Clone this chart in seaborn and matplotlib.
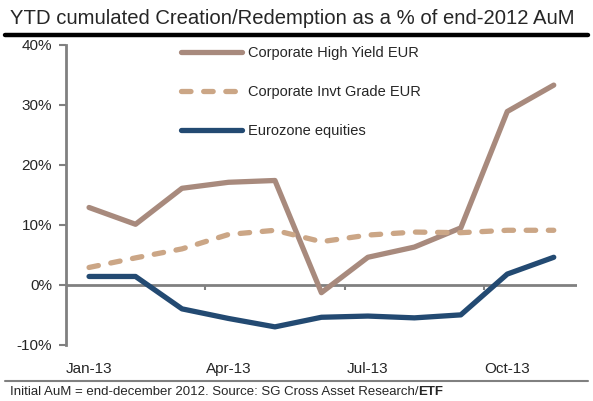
import pandas as pd
import matplotlib.pyplot as plt
import seaborn as sns
from matplotlib.lines import Line2D
from matplotlib.ticker import FuncFormatter
sns.set_style('white')
plt.rcParams['font.family'] = ['Liberation Sans', 'DejaVu Sans']

months = ['Jan-13', 'Feb-13', 'Mar-13', 'Apr-13', 'May-13', 'Jun-13',
          'Jul-13', 'Aug-13', 'Sep-13', 'Oct-13', 'Nov-13']
high_yield = [12.9, 10.1, 16.1, 17.1, 17.4, -1.3, 4.6, 6.3, 9.5, 28.9, 33.3]
invt_grade = [2.9, 4.5, 6.0, 8.4, 9.1, 7.2, 8.3, 8.8, 8.7, 9.1, 9.1]
eurozone = [1.4, 1.4, -4.0, -5.6, -7.0, -5.4, -5.2, -5.5, -5.0, 1.8, 4.6]

series = ['Corporate High Yield EUR', 'Corporate Invt Grade EUR', 'Eurozone equities']
colors = ['#a88a7d', '#cba686', '#234a72']

df = pd.DataFrame({'month': list(range(len(months))) * 3,
                   'value': high_yield + invt_grade + eurozone,
                   'series': [s for s in series for _ in months]})

fig = plt.figure(figsize=(5.93, 4.01), dpi=100)
ax = fig.add_axes([0.111, 0.140, 0.862, 0.748])

sns.lineplot(data=df, x='month', y='value', hue='series', style='series',
             palette=dict(zip(series, colors)),
             dashes={series[0]: '', series[1]: (1.8, 2.4), series[2]: ''},
             linewidth=3.8, ax=ax)
for ln in ax.get_lines():
    ln.set_dash_capstyle('round')

ax.set_xlim(-0.5, len(months) - 0.5)
ax.set_ylim(-10, 40)
ax.set_yticks(range(-10, 41, 10))
ax.yaxis.set_major_formatter(FuncFormatter(lambda v, p: f'{v:.0f}%'))
ax.set_xticks([0, 3, 6, 9])
ax.set_xticklabels([months[i] for i in [0, 3, 6, 9]])
ax.tick_params(axis='x', length=0, pad=12, labelsize=11)
ax.tick_params(axis='y', length=5, width=1.5, color='#808080', left=True,
               pad=5, labelsize=11)
ax.set_xlabel('')
ax.set_ylabel('')
for s in ['top', 'right', 'bottom']:
    ax.spines[s].set_visible(False)
ax.spines['left'].set_color('#808080')
ax.spines['left'].set_linewidth(2)

ax.axhline(0, color='#808080', lw=2, zorder=1)
ax.vlines([2.5, 5.5, 8.5], -0.8, 0, color='#808080', lw=1.5, zorder=1)

handles, labels = ax.get_legend_handles_labels()
for h in handles:
    h.set_linewidth(3.8)
    h.set_dash_capstyle('round')
    h.set_solid_capstyle('round')
leg = ax.legend(handles, labels, loc='upper left', bbox_to_anchor=(0.2, 1.04),
                frameon=False, fontsize=10.5, handlelength=4.2,
                labelspacing=1.72, handletextpad=0.4)

fig.text(0.017, 0.955, 'YTD cumulated Creation/Redemption as a % of end-2012 AuM',
         fontsize=14.6, va='center', ha='left')
fig.add_artist(Line2D([0.008, 0.992], [0.913, 0.913], color='black', lw=3.2))
fig.add_artist(Line2D([0.008, 0.992], [0.05, 0.05], color='#808080', lw=1.5))
note = fig.text(0.017, 0.022, 'Initial AuM = end-december 2012. Source: SG Cross Asset Research/',
                fontsize=9.5, va='center', ha='left')
fig.text(0, 0, 'ETF', fontsize=9.5, fontweight='bold', va='center', ha='left',
         transform=note.get_transform())
fig.canvas.draw()
bb = note.get_window_extent().transformed(fig.transFigure.inverted())
fig.texts[-1].set_position((bb.x1, 0.022))

fig.savefig('out.png', dpi=100)
